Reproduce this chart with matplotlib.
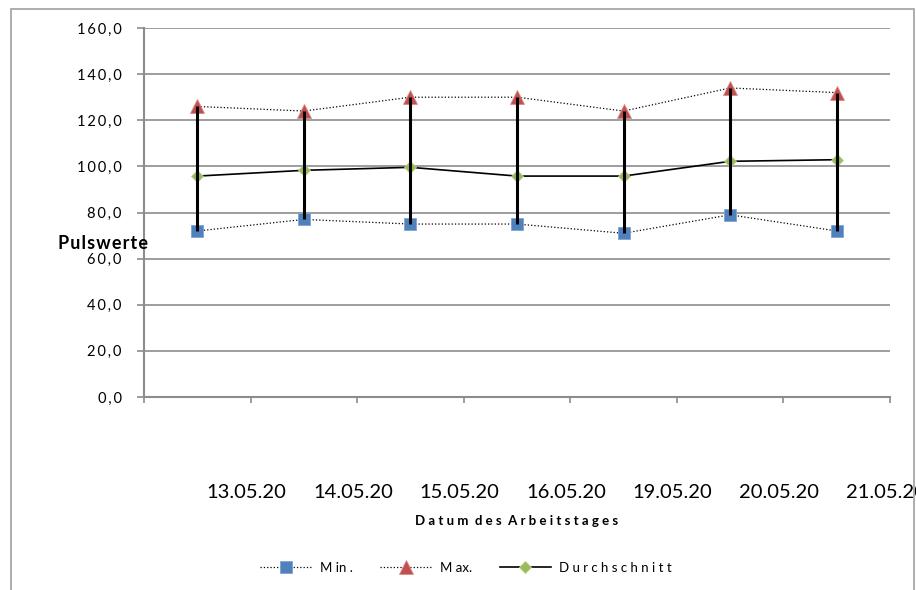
import numpy as np
import matplotlib
matplotlib.use("Agg")
import matplotlib.pyplot as plt
import matplotlib.patches as patches

plt.rcParams['font.family'] = ['Lato', 'DejaVu Sans']

# Pulswerte pro Arbeitstag
dates = ['13.05.20', '14.05.20', '15.05.20', '16.05.20', '19.05.20', '20.05.20', '21.05.20']
puls_min = [72, 77, 75, 75, 71, 79, 72]
puls_max = [126, 124, 130, 130, 124, 134, 132]
puls_avg = [95.8, 98.3, 99.6, 95.8, 95.8, 102.2, 102.9]
y_ticks = [0, 20, 40, 60, 80, 100, 120, 140, 160]

blue = '#4F81BD'
red = '#C0504D'
green = '#9BBB59'
grid_col = '#8C8C8C'


def spaced(s, sep='\u2009'):
    """Text with small gaps between the letters"""
    return sep.join(s)


fig = plt.figure(figsize=(9.16, 5.90), dpi=100)
ax = fig.add_axes([0.1572, 0.3271, 0.8144, 0.6254])

x = np.arange(len(dates))

# Rahmen um das ganze Diagramm
frame = patches.Rectangle((0.0115, -0.05), 0.9865, 0.9947 + 0.05 - 0.0095,
                          transform=fig.transFigure, fill=False,
                          edgecolor='#A0A0A0', linewidth=1.2, clip_on=False)
fig.patches.append(frame)

ax.plot(x, puls_min, color='black', linestyle=':', linewidth=0.9,
        marker='s', markersize=8.5, markerfacecolor=blue,
        markeredgecolor='#7FA3D0', markeredgewidth=0.6, label='M in .', zorder=3)
ax.plot(x, puls_max, color='black', linestyle=':', linewidth=0.9,
        marker='^', markersize=9.5, markerfacecolor=red,
        markeredgecolor='#D98A88', markeredgewidth=0.6, label='M ax.', zorder=3)
ax.plot(x, puls_avg, color='black', linestyle='-', linewidth=1.2,
        marker='D', markersize=6.5, markerfacecolor=green,
        markeredgecolor='#B9D08A', markeredgewidth=0.6,
        label='D u r c h s c h n i t t', zorder=3)

# Hoch-Tief-Linien
ax.vlines(x, puls_min, puls_max, color='black', linewidth=2.2, zorder=4)

ax.set_xlim(-0.5, len(dates) - 0.5)
ax.set_ylim(0, 160)
ax.set_yticks(y_ticks)
ax.set_yticklabels([spaced(('%.1f' % v).replace('.', ',')) for v in y_ticks],
                   fontsize=10.5)
ax.set_xticks(np.arange(len(dates) + 1) - 0.5)
ax.set_xticklabels([])

ax.grid(axis='y', color=grid_col, linewidth=1.2)
ax.set_axisbelow(True)
for side in ['top', 'right']:
    ax.spines[side].set_visible(False)
for side in ['left', 'bottom']:
    ax.spines[side].set_color(grid_col)
    ax.spines[side].set_linewidth(1.5)
ax.tick_params(axis='y', direction='out', length=5, width=1.2, color=grid_col, pad=11)
ax.tick_params(axis='x', direction='out', length=4, width=1.2, color=grid_col)

# Datumsbeschriftung (die letzte wird am Rand abgeschnitten)
for i, d in enumerate(dates):
    ax.text(i + 0.085, -41.5, d, fontsize=14.5, ha='left', va='center',
            transform=ax.transData, clip_on=False)

fig.text(517 / 916, 1 - 521 / 590, 'D a t u m  d e s  A r b e i t s t a g e s',
         fontsize=9.5, fontweight='bold', ha='center', va='center')
fig.text(58 / 916, 1 - 243 / 590, spaced('Pulswerte', '\u200a'), fontsize=13,
         fontweight='bold', ha='left', va='center')

leg = fig.legend(loc='center', bbox_to_anchor=(466 / 916, 1 - 568 / 590),
                 ncol=3, frameon=False, fontsize=9.5, handlelength=3.9,
                 columnspacing=2.1, handletextpad=0.6)

fig.savefig('out.png', dpi=100)
